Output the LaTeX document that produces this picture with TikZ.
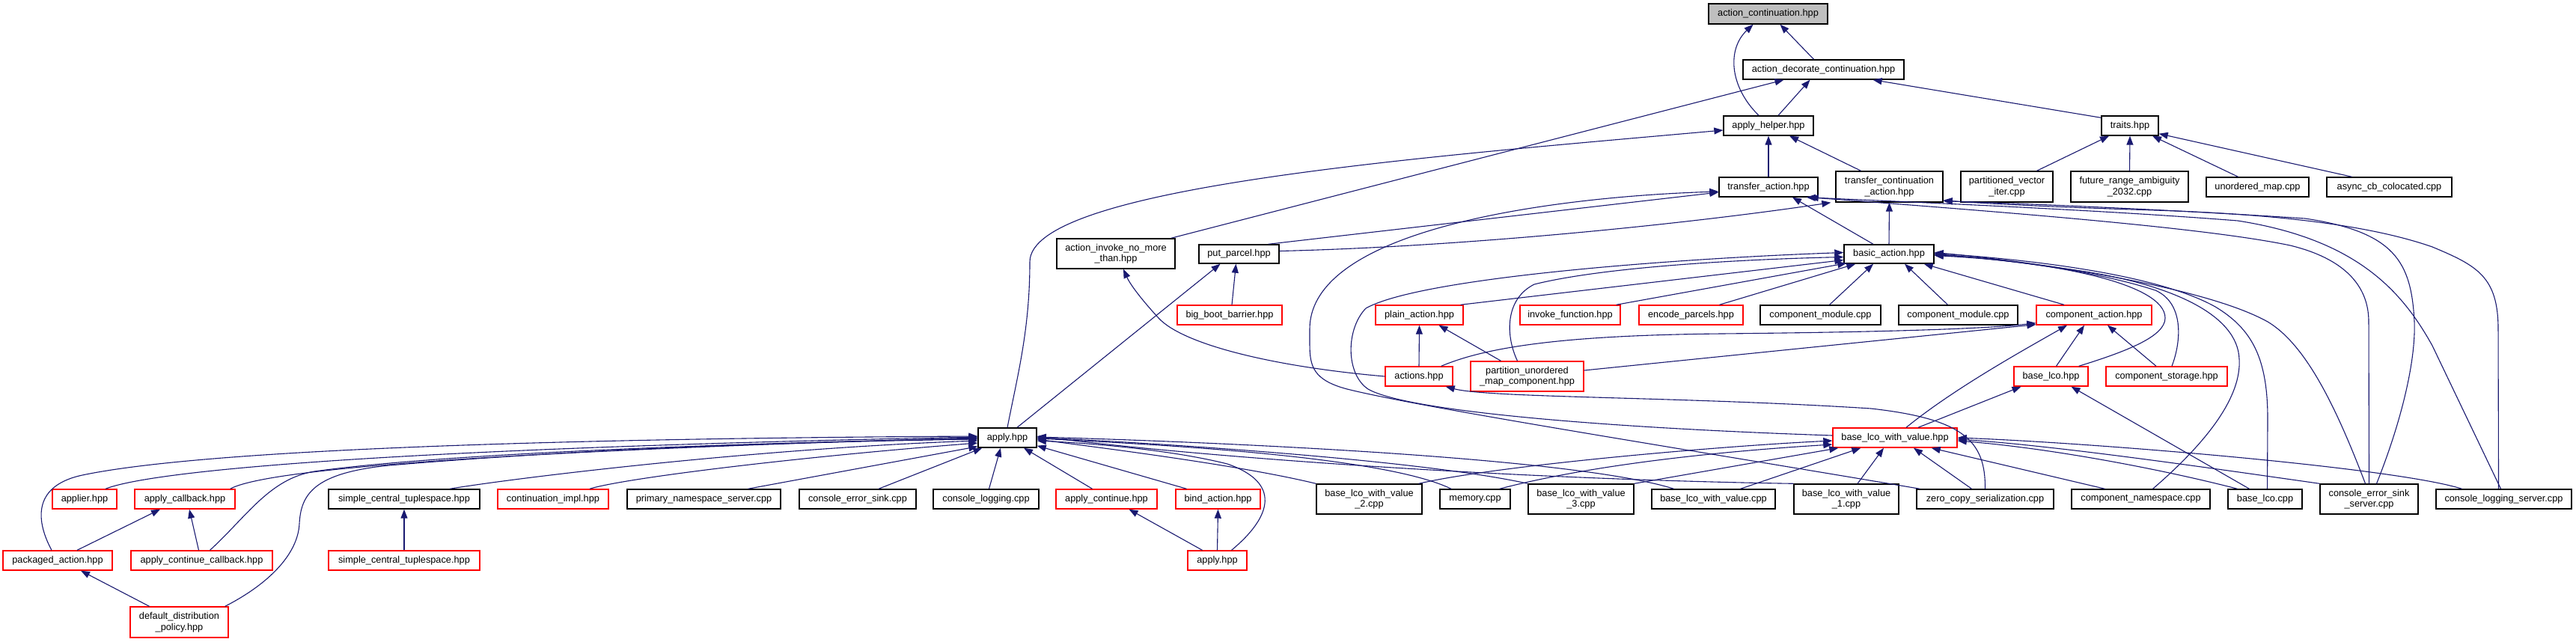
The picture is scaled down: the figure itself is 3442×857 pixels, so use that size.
\documentclass[tikz,border=0pt]{standalone}
\usepackage{fontspec}
\setmainfont{Liberation Sans}
\usetikzlibrary{arrows.meta}
\definecolor{edgecol}{HTML}{191970}
\definecolor{boxgray}{HTML}{BFBFBF}
\newcommand{\nodefont}{\fontsize{12.75}{14.5}\selectfont}
\newcommand{\nd}[7]{\node[#1, minimum width={(#5)-(#3)}, minimum height={(#6)-(#4)}] (#2) at ({((#3)+(#5))/2},{((#4)+(#6))/2}) {#7};}
\tikzset{
  fbox/.style={draw=black, line width=1.4pt, fill=white, inner sep=0pt, align=center, font=\nodefont, text=black},
  rbox/.style={fbox, draw=red},
  gbox/.style={fbox, fill=boxgray},
  edge/.style={draw=edgecol, line width=1.1pt, -{Triangle[length=12pt,width=9pt]}},
}
\begin{document}
\begin{tikzpicture}[x=1pt,y=-1pt]
\fill[white] (0,0) rectangle (3442,857);
\useasboundingbox (0,0) rectangle (3442,857);
% nodes
\nd{gbox}{ac}{2283}{5}{2442}{32}{action\_continuation.hpp}
\nd{fbox}{adc}{2329}{80}{2544}{106}{action\_decorate\_continuation.hpp}
\nd{fbox}{ah}{2303}{155}{2423}{181}{apply\_helper.hpp}
\nd{fbox}{traits}{2808}{155}{2884}{181}{traits.hpp}
\nd{fbox}{ta}{2297}{237}{2429}{263}{transfer\_action.hpp}
\nd{fbox}{tca}{2453}{229}{2596}{270}{transfer\_continuation\\\_action.hpp}
\nd{fbox}{pvi}{2620}{229}{2743}{270}{partitioned\_vector\\\_iter.cpp}
\nd{fbox}{fra}{2767}{229}{2924}{270}{future\_range\_ambiguity\\\_2032.cpp}
\nd{fbox}{um}{2948}{237}{3085}{263}{unordered\_map.cpp}
\nd{fbox}{acc}{3109}{237}{3276}{263}{async\_cb\_colocated.cpp}
\nd{fbox}{ainmt}{1412}{319}{1570}{359}{action\_invoke\_no\_more\\\_than.hpp}
\nd{fbox}{pp}{1602}{327}{1709}{352}{put\_parcel.hpp}
\nd{fbox}{ba}{2464}{327}{2584}{352}{basic\_action.hpp}
\nd{rbox}{bbb}{1573}{408}{1713}{434}{big\_boot\_barrier.hpp}
\nd{rbox}{pa}{1838}{408}{1955}{434}{plain\_action.hpp}
\nd{rbox}{invf}{2031}{408}{2165}{434}{invoke\_function.hpp}
\nd{rbox}{ep}{2190}{408}{2329}{434}{encode\_parcels.hpp}
\nd{fbox}{cma}{2352}{408}{2513}{434}{component\_module.cpp}
\nd{fbox}{cmb}{2537}{408}{2696}{434}{component\_module.cpp}
\nd{rbox}{ca}{2721}{408}{2875}{434}{component\_action.hpp}
\nd{rbox}{act}{1851}{490}{1941}{516}{actions.hpp}
\nd{rbox}{pumc}{1965}{483}{2116}{523}{partition\_unordered\\\_map\_component.hpp}
\nd{rbox}{bl}{2691}{490}{2790}{516}{base\_lco.hpp}
\nd{rbox}{cs}{2814}{490}{2976}{516}{component\_storage.hpp}
\nd{fbox}{apply}{1307}{572}{1385}{598}{apply.hpp}
\nd{rbox}{blwv}{2449}{572}{2615}{598}{base\_lco\_with\_value.hpp}
\nd{rbox}{applier}{70}{654}{156}{680}{applier.hpp}
\nd{rbox}{acb}{180}{654}{314}{680}{apply\_callback.hpp}
\nd{fbox}{scta}{439}{654}{641}{680}{simple\_central\_tuplespace.hpp}
\nd{rbox}{ci}{665}{654}{813}{680}{continuation\_impl.hpp}
\nd{fbox}{pns}{838}{654}{1043}{680}{primary\_namespace\_server.cpp}
\nd{fbox}{ces}{1068}{654}{1224}{680}{console\_error\_sink.cpp}
\nd{fbox}{cl}{1247}{654}{1388}{680}{console\_logging.cpp}
\nd{rbox}{acont}{1411}{654}{1546}{680}{apply\_continue.hpp}
\nd{rbox}{bind}{1571}{654}{1684}{680}{bind\_action.hpp}
\nd{fbox}{btwo}{1759}{647}{1900}{687}{base\_lco\_with\_value\\\_2.cpp}
\nd{fbox}{mem}{1924}{654}{2018}{680}{memory.cpp}
\nd{fbox}{bthree}{2042}{647}{2183}{687}{base\_lco\_with\_value\\\_3.cpp}
\nd{fbox}{bcpp}{2207}{654}{2372}{680}{base\_lco\_with\_value.cpp}
\nd{fbox}{bone}{2397}{647}{2537}{687}{base\_lco\_with\_value\\\_1.cpp}
\nd{fbox}{zcs}{2561}{654}{2744}{680}{zero\_copy\_serialization.cpp}
\nd{fbox}{cns}{2768}{654}{2953}{680}{component\_namespace.cpp}
\nd{fbox}{blcpp}{2977}{654}{3076}{680}{base\_lco.cpp}
\nd{fbox}{cess}{3100}{647}{3231}{687}{console\_error\_sink\\\_server.cpp}
\nd{fbox}{cls}{3255}{654}{3436}{680}{console\_logging\_server.cpp}
\nd{rbox}{pkg}{4}{736}{150}{762}{packaged\_action.hpp}
\nd{rbox}{accb}{175}{736}{364}{762}{apply\_continue\_callback.hpp}
\nd{rbox}{sctb}{439}{736}{641}{762}{simple\_central\_tuplespace.hpp}
\nd{rbox}{applyb}{1587}{736}{1666}{762}{apply.hpp}
\nd{rbox}{ddp}{174}{811}{305}{852}{default\_distribution\\\_policy.hpp}
% edges: top part
\draw[edge] ([xshift=-13]ah.north) .. controls (2310,115) and (2308,65) .. ([xshift=-20]ac.south);
\draw[edge] ([xshift=-13]adc.north) -- ([xshift=16]ac.south);
\draw[edge] ([xshift=13]ah.north) -- ([xshift=-18]adc.south);
\draw[edge] ([xshift=-6]ainmt.north east) -- ([xshift=-53]adc.south);
\draw[edge] ([yshift=-3]traits.north west) -- ([xshift=66]adc.south);
\draw[edge] (apply.north) .. controls (1360,500) and (1376,440) .. (1376,350) .. controls (1376,250) and (1900,210) .. ([yshift=-6]ah.west);
\draw[edge] (ta.north) -- (ah.south);
\draw[edge] ([xshift=-38]tca.north) -- ([xshift=28]ah.south);
\draw[edge] ([xshift=40]pvi.north) -- ([xshift=-28]traits.south);
\draw[edge] (fra.north) -- (traits.south);
\draw[edge] ([xshift=-26]um.north) -- ([xshift=30]traits.south);
\draw[edge] ([xshift=-50]acc.north) -- ([yshift=3]traits.south east);
\draw[edge] ([xshift=-21]ba.north) -- ([xshift=32]ta.south);
\draw[edge] (ba.north) -- (tca.south);
\draw[edge] ([xshift=-15]pp.north east) -- ([yshift=-7]ta.west);
\draw[edge] ([yshift=4]pp.east) .. controls (1950,330) and (2250,300) .. ([xshift=-6]tca.south west);
\draw[edge] ([xshift=5]zcs.north west) .. controls (2250,600) and (1900,545) .. (1800,520) .. controls (1755,508) and (1750,490) .. (1750,460) -- (1750,440) .. controls (1750,300) and (2100,262) .. ([yshift=-6]ta.west);
% into basic_action
\draw[edge] ([yshift=3]blwv.west) .. controls (2150,572) and (1880,550) .. (1828,520) .. controls (1798,500) and (1798,440) .. (1825,412) .. controls (1900,370) and (2250,345) .. ([yshift=2]ba.west);
\draw[edge] ([xshift=-13]pumc.north) .. controls (2012,450) and (2010,400) .. (2050,380) .. controls (2150,355) and (2350,346) .. ([yshift=-4]ba.west);
\draw[edge] ([xshift=-4]pa.north east) -- ([yshift=-8]ba.west);
\draw[edge] ([xshift=-6]invf.north east) -- ([xshift=4,yshift=1]ba.south west);
\draw[edge] ([xshift=38]ep.north) -- ([xshift=16]ba.south west);
\draw[edge] ([xshift=12]cma.north) -- ([xshift=-21]ba.south);
\draw[edge] ([xshift=-14]cmb.north) -- ([xshift=21]ba.south);
\draw[edge] ([xshift=-40]ca.north) -- ([xshift=-14]ba.south east);
\draw[edge] ([xshift=-13]bl.north east) .. controls (2840,470) and (2893,450) .. (2893,425) .. controls (2893,380) and (2750,350) .. ([yshift=-2]ba.east);
\draw[edge] ([xshift=7]cs.north) .. controls (2915,455) and (2918,405) .. (2880,388) .. controls (2800,362) and (2680,346) .. ([yshift=-1]ba.east);
\draw[edge] ([xshift=16]cns.north) .. controls (2950,590) and (2995,530) .. (2992,480) .. controls (2990,420) and (2900,380) .. (2780,362) .. controls (2700,350) and (2640,344) .. (ba.east);
\draw[edge] ([xshift=3]blcpp.north) -- (3030,560) .. controls (3030,480) and (3010,440) .. (2960,410) .. controls (2880,365) and (2700,346) .. ([yshift=1]ba.east);
\draw[edge] ([xshift=-5]cess.north) .. controls (3120,540) and (3080,460) .. (3030,430) .. controls (2940,380) and (2700,348) .. ([yshift=2]ba.east);
% into component_action, base_lco, plain_action, etc.
\draw[edge] ([xshift=-16]act.north east) .. controls (1990,462) and (2100,448) .. (2300,446) .. controls (2500,444) and (2650,440) .. ([yshift=3]ca.south west);
\draw[edge] ([yshift=8]pumc.east) -- ([yshift=1]ca.south west);
\draw[edge] ([xshift=7]bl.north) -- ([xshift=-13]ca.south);
\draw[edge] ([xshift=-14]cs.north) -- ([xshift=18]ca.south);
\draw[edge] ([xshift=15]blwv.north) .. controls (2610,520) and (2700,470) .. ([xshift=-36]ca.south);
\draw[edge] ([xshift=31]blwv.north) -- ([xshift=-40]bl.south);
\draw[edge] ([xshift=-21]blcpp.north) -- ([xshift=27]bl.south);
\draw[edge] (act.north) -- (pa.south);
\draw[edge] ([xshift=-35]pumc.north) -- ([xshift=26]pa.south);
\draw[edge] (act.west) .. controls (1700,490) and (1580,460) .. (1548,425) .. controls (1525,400) and (1510,380) .. ([xshift=10]ainmt.south);
\draw[edge] ([xshift=13]apply.north) -- ([xshift=-25]pp.south);
\draw[edge] ([xshift=3]bbb.north) -- ([xshift=-4]pp.south);
\draw[edge] (zcs.north) .. controls (2653,590) and (2625,560) .. (2500,546) .. controls (2250,530) and (1990,532) .. ([xshift=-10]act.south east);
% into transfer actions from the right
\draw[edge] (cess.north) -- (3165,430) .. controls (3165,380) and (3130,345) .. (3060,328) .. controls (2950,305) and (2700,285) .. ([xshift=-12]ta.south east);
\draw[edge] ([xshift=10]cess.north) .. controls (3210,560) and (3228,480) .. (3226,430) .. controls (3222,350) and (3200,310) .. (3080,292) .. controls (2900,280) and (2700,272) .. ([yshift=2]tca.south east);
\draw[edge] ([xshift=-4]cls.north) -- (3250,462) .. controls (3210,390) and (3150,320) .. (2990,295) .. controls (2800,280) and (2550,270) .. ([xshift=-16]ta.south east);
\draw[edge] ([xshift=-7]cls.north) -- (3338,440) .. controls (3338,370) and (3310,355) .. (3250,330) .. controls (3150,295) and (3000,285) .. (2880,281) .. controls (2750,277) and (2650,272) .. ([yshift=3]tca.south east);
% into apply.hpp
\draw[edge] ([xshift=-8]pkg.north) .. controls (50,700) and (40,650) .. (110,635) .. controls (300,595) and (900,585) .. ([yshift=2]apply.west);
\draw[edge] ([xshift=28]applier.north) .. controls (200,630) and (500,600) .. ([yshift=1]apply.west);
\draw[edge] ([xshift=-7]acb.north east) .. controls (350,630) and (600,605) .. (apply.west);
\draw[edge] ([xshift=11]accb.north) .. controls (330,690) and (360,640) .. (420,630) .. controls (600,605) and (1000,592) .. ([yshift=-1]apply.west);
\draw[edge] ([xshift=-5]ddp.north east) .. controls (360,780) and (398,740) .. (400,700) .. controls (402,660) and (420,632) .. (520,622) .. controls (800,598) and (1100,590) .. ([yshift=-2]apply.west);
\draw[edge] ([xshift=61]scta.north) .. controls (680,640) and (1000,600) .. ([yshift=-4]apply.west);
\draw[edge] ([xshift=49]ci.north) .. controls (830,640) and (1050,612) .. ([yshift=-7]apply.west);
\draw[edge] ([xshift=59]pns.north) -- ([yshift=2]apply.south west);
\draw[edge] ([xshift=28]ces.north) -- ([xshift=6]apply.south west);
\draw[edge] ([xshift=4]cl.north) -- ([xshift=-9]apply.south);
\draw[edge] ([xshift=-19]acont.north) -- ([xshift=22]apply.south);
\draw[edge] ([xshift=-42]bind.north) -- ([yshift=3]apply.south east);
\draw[edge] ([xshift=19]applyb.north) .. controls (1700,690) and (1712,645) .. (1640,620) .. controls (1560,600) and (1450,592) .. ([yshift=-4]apply.east);
\draw[edge] (btwo.north west) .. controls (1650,620) and (1450,596) .. ([yshift=-2]apply.east);
\draw[edge] ([xshift=-32]mem.north) .. controls (1850,610) and (1550,594) .. ([yshift=-1]apply.east);
\draw[edge] (bthree.north west) .. controls (1900,615) and (1550,592) .. (apply.east);
\draw[edge] ([xshift=-53]bcpp.north) .. controls (2100,610) and (1600,590) .. ([yshift=1]apply.east);
\draw[edge] (bone.north west) .. controls (2000,640) and (1600,610) .. ([yshift=2]apply.east);
% into base_lco_with_value
\draw[edge] ([xshift=-5]btwo.north east) .. controls (2000,622) and (2300,596) .. ([yshift=-4]blwv.west);
\draw[edge] ([xshift=-15]mem.north east) .. controls (2150,615) and (2350,600) .. ([yshift=-9]blwv.west);
\draw[edge] (bthree.north east) -- ([xshift=8]blwv.south west);
\draw[edge] ([xshift=36]bcpp.north) -- ([xshift=38]blwv.south west);
\draw[edge] ([xshift=15]bone.north) -- ([xshift=-15]blwv.south);
\draw[edge] ([xshift=-18]zcs.north) -- ([xshift=25]blwv.south);
\draw[edge] ([xshift=-48]cns.north) -- ([xshift=-35]blwv.south east);
\draw[edge] ([xshift=-37]blcpp.north) .. controls (2900,630) and (2750,600) .. ([yshift=-4]blwv.east);
\draw[edge] (cess.north west) .. controls (2950,625) and (2750,596) .. ([yshift=-2]blwv.east);
\draw[edge] ([xshift=-56]cls.north) .. controls (3200,625) and (2800,592) .. (blwv.east);
% lower left group
\draw[edge] (sctb.north) -- (scta.south);
\draw[edge] ([xshift=26]pkg.north) -- ([xshift=-33]acb.south);
\draw[edge] ([xshift=-4]accb.north) -- ([xshift=6]acb.south);
\draw[edge] ([xshift=-40]ddp.north) -- ([xshift=31]pkg.south);
\draw[edge] ([xshift=-20]applyb.north) -- ([xshift=30]acont.south);
\draw[edge] (applyb.north) -- (bind.south);
\end{tikzpicture}
\end{document}
